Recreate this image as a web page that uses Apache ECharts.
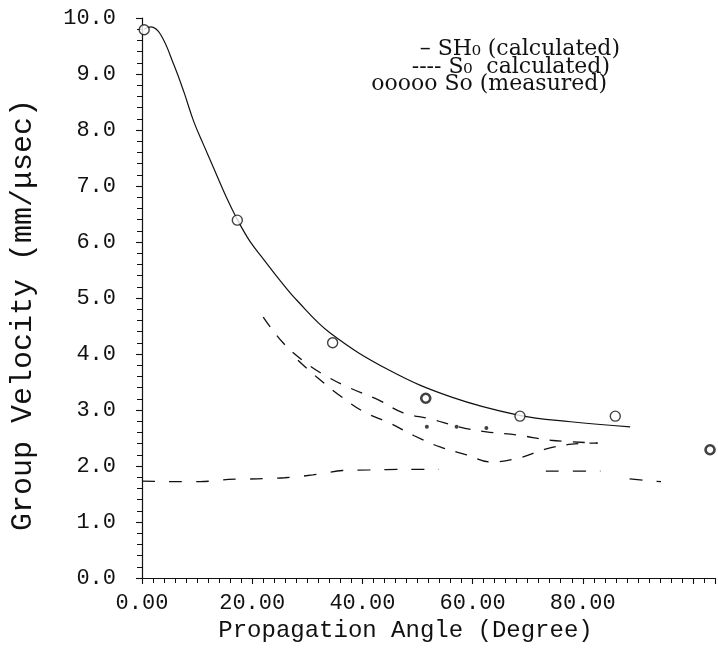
<!DOCTYPE html>
<html><head><meta charset="utf-8">
<script src="https://cdn.jsdelivr.net/npm/echarts@6/dist/echarts.min.js"></script>
<style>html,body{margin:0;padding:0;background:#fff}#c{width:718px;height:658px}</style>
</head><body><div id="c"></div>
<script>
// ---- data ----
const xAxisTicks = [0, 20, 40, 60, 80];
const yAxisTicks = [0, 1, 2, 3, 4, 5, 6, 7, 8, 9, 10];

// solid calculated curve
const solidAngle = [0.4, 1.6, 3.4, 5.8, 7.6, 9.4, 11.2, 13.0, 15.4, 17.2, 19.6, 22.0, 25.0, 28.1, 34.1, 44.9, 56.2, 68.3, 77.8, 88.6];
const solidVel   = [9.80, 9.84, 9.70, 9.16, 8.68, 8.15, 7.73, 7.32, 6.78, 6.42, 6.01, 5.70, 5.32, 4.96, 4.38, 3.71, 3.23, 2.91, 2.79, 2.70];

// S0 calculated, upper dashed branch
const s0UpperAngle = [22.0, 25.6, 29.5, 33.7, 37.8, 42.9, 47.4, 52.4, 57.5, 62.5, 68.3, 74.2, 82.7];
const s0UpperVel   = [4.66, 4.20, 3.86, 3.59, 3.39, 3.18, 2.95, 2.84, 2.70, 2.61, 2.55, 2.46, 2.41];

// S0 calculated, lower dashed branch
const s0LowerAngle = [28.3, 31.7, 36.0, 40.4, 44.9, 49.4, 54.1, 58.9, 63.4, 68.3, 73.2, 78.0, 82.7];
const s0LowerVel   = [3.89, 3.59, 3.25, 2.96, 2.77, 2.54, 2.34, 2.20, 2.07, 2.14, 2.30, 2.39, 2.41];

// SH0 calculated (near-flat dashed line), '-' marks a gap
const sh0Angle = [0, 5.6, 10.6, 15.7, 20.9, 25.9, 31.0, 36.4, 41.3, 47.5, 53.9, 63.0, 73.3, 83.2, 86.0, 88.5, 94.2];
const sh0Vel   = [1.73, 1.72, 1.72, 1.76, 1.77, 1.79, 1.84, 1.92, 1.93, 1.94, 1.94, '-', 1.91, 1.91, '-', 1.77, 1.72];

// small dots between the dashed branches
const dotAngle = [51.7, 57.1, 62.5];
const dotVel   = [2.70, 2.70, 2.68];

// So measured
const measAngle = [0.4, 17.3, 34.6, 68.6, 85.9];
const measVel   = [9.79, 6.39, 4.20, 2.89, 2.89];
const measBoldAngle = [51.5, 103.1];
const measBoldVel   = [3.21, 2.29];

const zip = (a, b) => a.map((v, i) => [v, b[i]]);

const chart = echarts.init(document.getElementById('c'), null, {renderer: 'canvas'});
const monoFont = '"Liberation Mono", "DejaVu Sans Mono", monospace';
const serifFont = '"DejaVu Serif", "Liberation Serif", serif';

chart.setOption({
  backgroundColor: '#fff',
  animation: false,
  grid: {left: 141, top: 18, right: 0, bottom: 80, containLabel: false},
  xAxis: {
    type: 'value', min: 0, max: 104, interval: 20,
    name: 'Propagation Angle (Degree)', nameLocation: 'middle', nameGap: 40,
    nameTextStyle: {fontFamily: monoFont, fontSize: 24, color: '#111', padding: [0, 46, 0, 0]},
    axisLine: {show: true, onZero: false, lineStyle: {color: '#111', width: 1.2}},
    axisTick: {show: true, length: 6, lineStyle: {color: '#111', width: 1.1}},
    minorTick: {show: true, splitNumber: 10, length: 5, lineStyle: {color: '#111', width: 1}},
    axisLabel: {
      margin: 14, fontFamily: monoFont, fontSize: 22, color: '#111',
      formatter: v => (xAxisTicks.indexOf(v) >= 0 ? v.toFixed(2) : '')
    },
    splitLine: {show: false}
  },
  yAxis: {
    type: 'value', min: 0, max: 10, interval: 1,
    name: 'Group Velocity (mm/\u03bcsec)', nameLocation: 'middle', nameGap: 104,
    nameTextStyle: {fontFamily: monoFont, fontSize: 30, color: '#111', padding: [0, 34, 0, 0]},
    axisLine: {show: true, onZero: false, lineStyle: {color: '#111', width: 1.2}},
    axisTick: {show: true, length: 6, lineStyle: {color: '#111', width: 1.1}},
    minorTick: {show: true, splitNumber: 5, length: 5, lineStyle: {color: '#111', width: 1}},
    axisLabel: {
      margin: 26, fontFamily: monoFont, fontSize: 22, color: '#111',
      formatter: v => (yAxisTicks.indexOf(v) >= 0 ? v.toFixed(1) : '')
    },
    splitLine: {show: false}
  },
  series: [
    {name: 'S0 (calculated)', type: 'line', data: zip(solidAngle, solidVel), smooth: 0.4,
     showSymbol: false, lineStyle: {color: '#111', width: 1.2}, z: 3},
    {name: 'S0 calculated upper', type: 'line', data: zip(s0UpperAngle, s0UpperVel), smooth: 0.4,
     showSymbol: false, lineStyle: {color: '#111', width: 1.3, type: [12, 11]}, z: 3},
    {name: 'S0 calculated lower', type: 'line', data: zip(s0LowerAngle, s0LowerVel), smooth: 0.4,
     showSymbol: false, lineStyle: {color: '#111', width: 1.3, type: [12, 11]}, z: 3},
    {name: 'SH0 (calculated)', type: 'line', data: zip(sh0Angle, sh0Vel), smooth: 0.3, connectNulls: false,
     showSymbol: false, lineStyle: {color: '#111', width: 1.3, type: [13, 14]}, z: 3},
    {name: 'dots', type: 'scatter', data: zip(dotAngle, dotVel), symbol: 'circle', symbolSize: 4,
     itemStyle: {color: '#111'}, z: 4},
    {name: 'So measured', type: 'scatter', data: zip(measAngle, measVel), symbol: 'circle', symbolSize: 10,
     itemStyle: {color: '#fff', borderColor: '#111', borderWidth: 1.4}, z: 5},
    {name: 'So measured (o)', type: 'scatter', data: zip(measBoldAngle, measBoldVel), symbol: 'circle', symbolSize: 9,
     itemStyle: {color: '#fff', borderColor: '#111', borderWidth: 2.6}, z: 5}
  ],
  graphic: [
    {type: 'text', right: 98, top: 38, style: {text: '\u2013 SH\u2080 (calculated)', font: '22px ' + serifFont, fill: '#111'}},
    {type: 'text', right: 108, top: 56, style: {text: '---- S\u2080  calculated)', font: '22px ' + serifFont, fill: '#111'}},
    {type: 'text', right: 111, top: 73, style: {text: 'ooooo So (measured)', font: '22px ' + serifFont, fill: '#111'}}
  ]
});
</script>
</body></html>
